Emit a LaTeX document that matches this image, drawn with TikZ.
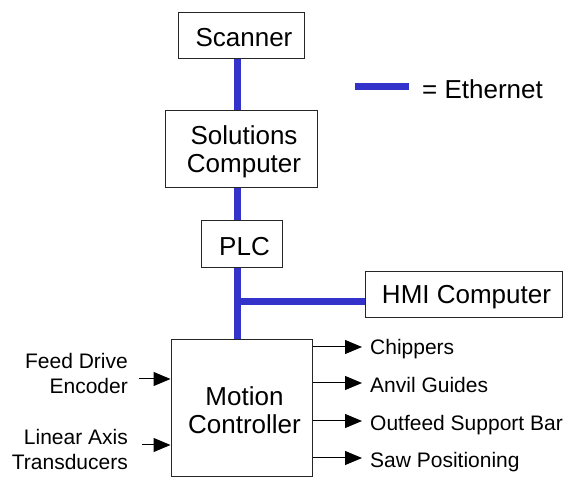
\documentclass[tikz,border=0pt]{standalone}
\usepackage{fontspec}
\setmainfont{Liberation Sans}
\usetikzlibrary{arrows.meta}
\definecolor{ethblue}{RGB}{51,51,204}
\tikzset{
  unitbox/.style={draw=black!85, line width=1pt, inner sep=0pt},
  unittext/.style={inner sep=0pt, align=center, xshift=3pt, yshift=-2pt,
    font=\fontsize{26}{28}\selectfont},
  eth/.style={draw=ethblue, line width=7pt},
  sig/.style={draw=black, line width=1pt, -{Triangle[length=17pt,width=14pt]}},
  sidelabel/.style={inner sep=0pt, font=\fontsize{21}{25}\selectfont}
}
\begin{document}
\begin{tikzpicture}[x=1pt,y=-1pt]
  \useasboundingbox (0,0) rectangle (566,481);

  % units
  \node[unitbox, minimum width=126pt, minimum height=46pt,
        label={[unittext]center:Scanner}] (scanner) at (241,36) {};
  \node[unitbox, minimum width=152pt, minimum height=77pt,
        label={[unittext]center:Solutions\\Computer}] (solutions) at (241,149.5) {};
  \node[unitbox, minimum width=81pt, minimum height=47pt,
        label={[unittext]center:PLC}] (plc) at (241.5,244.5) {};
  \node[unitbox, minimum width=197pt, minimum height=46pt,
        label={[unittext]center:HMI Computer}] (hmi) at (463.5,295) {};
  \node[unitbox, minimum width=141pt, minimum height=137pt,
        label={[unittext]center:Motion\\Controller}] (motion) at (241.5,408.5) {};

  % ethernet bus
  \coordinate (busx) at (237.5,0);
  \coordinate (tap) at (237.5,302);
  \draw[eth] (busx |- scanner.south) -- (busx |- solutions.north);
  \draw[eth] (busx |- solutions.south) -- (busx |- plc.north);
  \draw[eth] (busx |- plc.south) -- (busx |- motion.north);
  \draw[eth] (tap) -- (hmi.west |- tap);

  % legend
  \coordinate (legA) at (355,87);
  \coordinate (legB) at (409,87);
  \draw[eth] (legA) -- (legB);
  \node[anchor=west, inner sep=0pt, font=\fontsize{26}{28}\selectfont] (legtext) at (422,89) {= Ethernet};

  % inputs
  \node[sidelabel, align=right, anchor=east] (feed) at (128,373) {Feed Drive\\Encoder};
  \node[sidelabel, align=right, anchor=east] (linear) at (128,449) {Linear Axis\\Transducers};
  \coordinate (inA) at (139,379);
  \coordinate (inB) at (142,445);
  \draw[sig] (inA) -- (motion.west |- inA);
  \draw[sig] (inB) -- (motion.west |- inB);

  % outputs
  \node[sidelabel, anchor=base west] (chip) at (370,355) {Chippers};
  \node[sidelabel, anchor=base west] (anvil) at (370,393) {Anvil Guides};
  \node[sidelabel, anchor=base west] (outfeed) at (370,431) {Outfeed Support Bar};
  \node[sidelabel, anchor=base west] (saw) at (370,468) {Saw Positioning};
  \coordinate (outA) at (362,347);
  \coordinate (outB) at (362,383);
  \coordinate (outC) at (362,421);
  \coordinate (outD) at (362,458);
  \draw[sig] (motion.east |- outA) -- (outA);
  \draw[sig] (motion.east |- outB) -- (outB);
  \draw[sig] (motion.east |- outC) -- (outC);
  \draw[sig] (motion.east |- outD) -- (outD);
\end{tikzpicture}
\end{document}
